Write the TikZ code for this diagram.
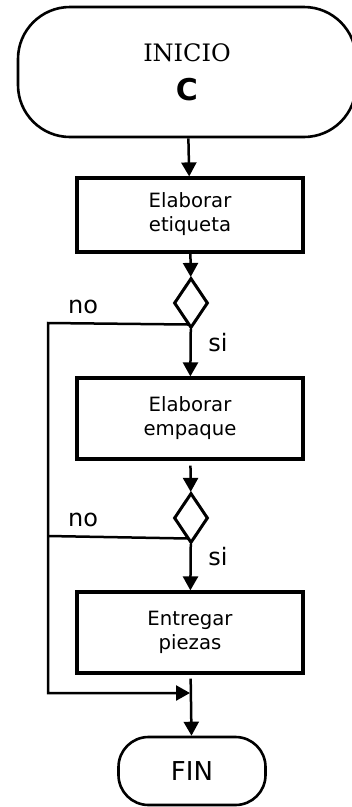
\documentclass[tikz,border=0pt]{standalone}
\usepackage{fontspec}
\usepackage{graphicx}
\setmainfont{DejaVu Sans}
\newfontfamily\inicioserif{DejaVu Serif}
\newcommand\boxtxt[2]{\scalebox{0.82}{\fontsize{24}{29}\selectfont\begin{tabular}{@{}c@{}}#1\\#2\end{tabular}}}
\usetikzlibrary{arrows.meta,shapes.geometric,calc}
\begin{document}
\begin{tikzpicture}[x=1pt,y=-1pt,
  conn/.style={line width=2.5pt},
  arr/.style={conn,-{Triangle[length=14pt,width=15pt]}},
  procbox/.style={draw,line width=3.2pt,minimum width=226pt,inner sep=0pt},
  decision/.style={draw,diamond,line width=3pt,minimum width=34pt,minimum height=50pt,inner sep=0pt},
  termbig/.style={draw,line width=2.6pt,rounded corners=52pt,minimum width=338pt,minimum height=130pt,inner sep=0pt,align=center},
  termsmall/.style={draw,line width=2.6pt,rounded corners=30pt,minimum width=147pt,minimum height=68pt,inner sep=0pt,font=\fontsize{26}{30}\selectfont},
  lbl/.style={font=\fontsize{24}{28}\selectfont,inner sep=0pt}
]
\useasboundingbox (0,0) rectangle (352,807);
\node[termbig] (inicio) at (187,72) {{\inicioserif\fontsize{24}{28}\selectfont INICIO}\\[15pt]{\bfseries\fontsize{30}{32}\selectfont C}};
\node[procbox,minimum height=74pt] (b1) at (190,215) {\boxtxt{Elaborar}{etiqueta}};
\node[decision] (d1) at (191,303) {};
\node[procbox,minimum height=81pt] (b2) at (190,418.5) {\boxtxt{Elaborar}{empaque}};
\node[decision] (d2) at (191,518) {};
\node[procbox,minimum height=81pt] (b3) at (190,632.5) {\boxtxt{Entregar}{piezas}};
\node[termsmall] (fin) at (192,771) {FIN};

\node[lbl] (no1) at (83,307) {no};
\node[lbl] (si1) at (218,343) {si};
\node[lbl] (no2) at (83,520) {no};
\node[lbl] (si2) at (218,557) {si};

\coordinate (x1) at ($(d1.south)+(-3,-5)$);
\coordinate (x2) at ($(d2.south)+(-3,-6)$);
\coordinate (L1) at (48,323);
\coordinate (L2) at (48,536);
\coordinate (L3) at (48,693);
\coordinate (m) at (190,693);

\draw[arr] (inicio) -- (b1);
\draw[arr] (b1) -- (d1);
\draw[arr] (d1) -- (b2);
\draw[arr,shorten <=5pt] (b2) -- (d2);
\draw[arr] (d2) -- (b3);
\draw[arr,shorten <=4pt] (b3) -- (fin);
\draw[conn] (x2) -- (L2);
\draw[arr] (x1) -- (L1) -- (L3) -- (m);
\end{tikzpicture}
\end{document}
